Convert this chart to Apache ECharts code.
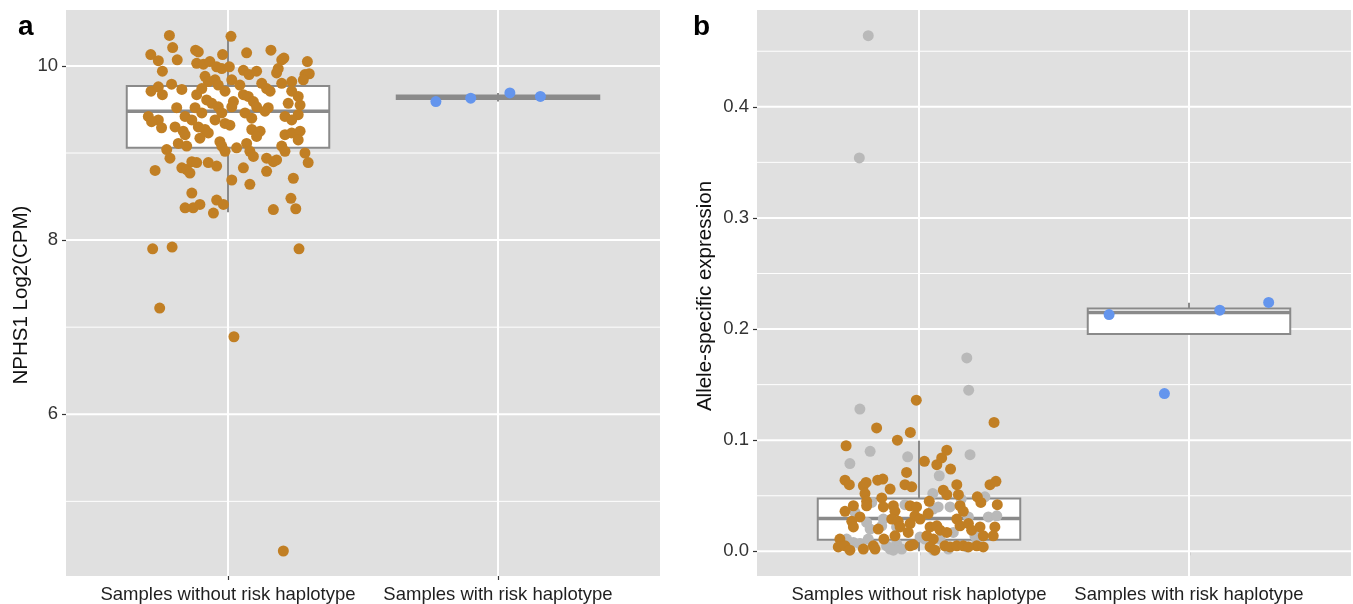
<!DOCTYPE html>
<html>
<head>
<meta charset="utf-8">
<script src="https://cdn.jsdelivr.net/npm/echarts@6/dist/echarts.min.js"></script>
<style>
  html, body { margin: 0; padding: 0; background: #ffffff; }
  #chart { width: 1353px; height: 604px; }
</style>
</head>
<body>
<div id="chart"></div>
<script>
// ---- data -----------------------------------------------------------------
const categories = ['Samples without risk haplotype', 'Samples with risk haplotype'];

// Panel a: NPHS1 expression, [jitter offset from category centre, log2(CPM)]
const nphs1NoRisk = [
  [-0.217, 10.35], [0.011, 10.34], [-0.205, 10.21], [-0.286, 10.13], [-0.258, 10.06],
  [-0.188, 10.07], [-0.120, 10.18], [-0.110, 10.16], [-0.020, 10.13], [0.069, 10.15],
  [0.159, 10.18], [0.207, 10.09], [0.199, 10.07], [0.294, 10.05], [-0.243, 9.94],
  [-0.116, 10.03], [-0.091, 10.02], [-0.067, 10.05], [-0.042, 9.99], [-0.023, 9.97],
  [0.005, 9.99], [0.057, 9.95], [0.078, 9.90], [0.106, 9.94], [0.186, 9.97],
  [0.180, 9.92], [0.285, 9.90], [0.301, 9.91], [0.279, 9.84], [-0.085, 9.88],
  [-0.073, 9.82], [-0.048, 9.84], [0.014, 9.84], [0.044, 9.78], [0.125, 9.80],
  [0.143, 9.74], [0.199, 9.80], [0.236, 9.82], [-0.285, 9.71], [-0.258, 9.76],
  [-0.243, 9.67], [-0.209, 9.79], [-0.171, 9.73], [-0.097, 9.74], [-0.116, 9.67],
  [-0.036, 9.78], [-0.011, 9.71], [0.057, 9.67], [0.075, 9.65], [0.156, 9.71],
  [0.236, 9.71], [0.260, 9.65], [-0.079, 9.61], [-0.060, 9.57], [-0.036, 9.53],
  [0.020, 9.59], [0.014, 9.53], [0.094, 9.59], [0.106, 9.53], [0.149, 9.52],
  [0.223, 9.57], [0.267, 9.55], [-0.190, 9.52], [-0.122, 9.52], [-0.097, 9.46],
  [-0.023, 9.46], [0.063, 9.46], [0.137, 9.48], [0.211, 9.42], [0.260, 9.44],
  [-0.295, 9.42], [-0.258, 9.38], [-0.159, 9.42], [-0.134, 9.38], [-0.048, 9.38],
  [0.088, 9.40], [0.236, 9.38], [-0.283, 9.36], [-0.246, 9.29], [-0.196, 9.30],
  [-0.166, 9.25], [-0.159, 9.21], [-0.110, 9.30], [-0.085, 9.27], [-0.073, 9.23],
  [-0.104, 9.17], [-0.011, 9.34], [0.007, 9.32], [0.088, 9.27], [0.119, 9.25],
  [0.106, 9.19], [0.211, 9.21], [0.236, 9.23], [0.267, 9.25], [0.260, 9.15],
  [-0.184, 9.11], [-0.153, 9.08], [-0.030, 9.13], [-0.023, 9.08], [-0.011, 9.02],
  [0.032, 9.06], [0.069, 9.11], [0.081, 9.02], [0.094, 8.96], [0.199, 9.08],
  [0.211, 9.02], [-0.227, 9.04], [-0.215, 8.94], [-0.270, 8.80], [-0.171, 8.83],
  [-0.153, 8.81], [-0.141, 8.77], [-0.134, 8.90], [-0.116, 8.89], [-0.073, 8.89],
  [-0.042, 8.85], [0.057, 8.83], [0.143, 8.94], [0.168, 8.90], [0.143, 8.79],
  [0.180, 8.92], [0.285, 9.00], [0.297, 8.89], [0.014, 8.69], [0.081, 8.64],
  [0.242, 8.71], [-0.134, 8.54], [-0.042, 8.46], [-0.017, 8.41], [-0.159, 8.37],
  [-0.129, 8.37], [-0.104, 8.41], [-0.054, 8.31], [0.168, 8.35], [0.233, 8.48],
  [0.251, 8.36], [-0.279, 7.90], [-0.207, 7.92], [0.263, 7.90], [-0.253, 7.22],
  [0.022, 6.89], [0.205, 4.43]
];
const nphs1Risk = [[-0.230, 9.59], [-0.101, 9.63], [0.044, 9.69], [0.157, 9.65]];

// box statistics per category: [lower whisker, Q1, median, Q3, upper whisker]
const nphs1Boxes = [
  [8.32, 9.06, 9.48, 9.77, 10.34],
  [9.59, 9.62, 9.64, 9.66, 9.69]
];

// Panel b: allele-specific expression, [jitter offset, value]
const aseNoRiskOrange = [
  [-0.010, 0.136], [0.278, 0.116], [-0.157, 0.111], [-0.080, 0.100], [-0.032, 0.107],
  [-0.270, 0.095], [0.020, 0.081], [0.066, 0.078], [0.084, 0.084], [0.103, 0.091],
  [0.117, 0.074], [-0.274, 0.064], [-0.258, 0.060], [-0.206, 0.059], [-0.196, 0.062],
  [-0.153, 0.064], [-0.134, 0.065], [-0.107, 0.056], [-0.046, 0.071], [-0.052, 0.060],
  [-0.027, 0.058], [0.140, 0.060], [0.263, 0.060], [0.285, 0.063], [0.090, 0.055],
  [0.103, 0.051], [0.146, 0.051], [-0.200, 0.052], [-0.194, 0.045], [-0.194, 0.041],
  [-0.138, 0.048], [0.216, 0.049], [0.229, 0.044], [0.290, 0.042], [0.038, 0.045],
  [-0.243, 0.041], [-0.274, 0.036], [-0.219, 0.031], [-0.132, 0.040], [-0.095, 0.041],
  [-0.089, 0.036], [-0.033, 0.041], [-0.009, 0.040], [-0.015, 0.032], [0.152, 0.041],
  [0.164, 0.036], [-0.249, 0.027], [-0.243, 0.022], [-0.151, 0.020], [-0.101, 0.029],
  [-0.077, 0.027], [-0.070, 0.022], [-0.033, 0.025], [-0.040, 0.017], [0.004, 0.029],
  [0.034, 0.034], [0.041, 0.022], [0.029, 0.014], [0.066, 0.023], [0.078, 0.019],
  [0.103, 0.017], [0.140, 0.029], [0.152, 0.023], [0.183, 0.025], [0.195, 0.019],
  [0.226, 0.022], [0.238, 0.014], [0.281, 0.022], [0.275, 0.014], [-0.293, 0.011],
  [-0.299, 0.004], [-0.274, 0.005], [-0.206, 0.002], [-0.169, 0.005], [-0.163, 0.002],
  [-0.089, 0.014], [-0.033, 0.005], [0.053, 0.011], [0.041, 0.004], [0.059, 0.001],
  [0.096, 0.005], [0.115, 0.004], [0.140, 0.005], [0.164, 0.005], [0.214, 0.005],
  [0.238, 0.004], [-0.021, 0.006], [0.183, 0.004], [-0.130, 0.011], [-0.256, 0.001]
];
const aseNoRiskGrey = [
  [-0.188, 0.464], [-0.221, 0.354], [0.177, 0.174], [0.184, 0.145], [-0.219, 0.128],
  [-0.181, 0.090], [-0.256, 0.079], [-0.042, 0.085], [0.189, 0.087], [0.075, 0.068],
  [0.051, 0.052], [0.156, 0.047], [0.244, 0.049], [-0.237, 0.035], [-0.175, 0.044],
  [-0.052, 0.042], [0.053, 0.038], [0.071, 0.040], [0.115, 0.040], [0.183, 0.031],
  [0.257, 0.031], [0.288, 0.032], [-0.194, 0.026], [-0.181, 0.020], [-0.132, 0.029],
  [-0.138, 0.023], [-0.083, 0.022], [-0.268, 0.011], [-0.243, 0.008], [-0.188, 0.011],
  [-0.120, 0.005], [-0.107, 0.002], [-0.083, 0.007], [-0.064, 0.002], [0.004, 0.013],
  [0.022, 0.011], [0.078, 0.011], [0.127, 0.017], [0.177, 0.004], [0.207, 0.014],
  [-0.095, 0.001], [0.053, 0.001], [0.109, 0.002], [0.214, 0.007], [-0.219, 0.007]
];
const aseRisk = [[-0.296, 0.213], [0.114, 0.217], [0.295, 0.224], [-0.091, 0.142]];

const aseBoxes = [
  [0.000, 0.0104, 0.0296, 0.0475, 0.0994],
  [0.1955, 0.1955, 0.2150, 0.2185, 0.2237]
];

// axis ticks
const nphs1Ticks = [6, 8, 10];
const nphs1Minor = [5, 7, 9];
const aseTicks = [0, 0.1, 0.2, 0.3, 0.4];
const aseMinor = [0.05, 0.15, 0.25, 0.35, 0.45];

// ---- styling ----------------------------------------------------------------
const FONT = '"Liberation Sans", Arial, Helvetica, sans-serif';
const PANEL_BG = '#E0E0E0';
const ORANGE = '#C17F24';
const GREY_PT = '#B9B9B9';
const BLUE = '#6495ED';
const BOX_STROKE = '#8A8A8A';
const BOX_HALF = 0.375;
const PT_SIZE = 11;

// place a jittered point at category index (1-based) + offset
const place = (catIndex, rows) => rows.map(r => [catIndex + r[0], r[1]]);

function gridLineData(major, minor) {
  const rows = [];
  minor.forEach(v => rows.push([v, 0, 0]));
  major.forEach(v => rows.push([v, 1, 0]));
  [1, 2].forEach(v => rows.push([v, 1, 1]));
  return rows;
}

function renderGridLine(params, api) {
  const cs = params.coordSys;
  const v = api.value(0), major = api.value(1), vertical = api.value(2);
  const w = major ? 2 : 1;
  if (vertical) {
    const x = api.coord([v, 0])[0];
    return { type: 'line', shape: { x1: x, y1: cs.y, x2: x, y2: cs.y + cs.height },
             style: { stroke: '#ffffff', lineWidth: w } };
  }
  const yv = api.coord([1, v])[1];
  if (yv < cs.y - 1 || yv > cs.y + cs.height + 1) return null;
  return { type: 'line', shape: { x1: cs.x, y1: yv, x2: cs.x + cs.width, y2: yv },
           style: { stroke: '#ffffff', lineWidth: w } };
}

function renderBox(params, api) {
  const g = api.value(0);
  const low = api.value(1), q1 = api.value(2), med = api.value(3), q3 = api.value(4), high = api.value(5);
  const tl = api.coord([g - BOX_HALF, q3]);
  const br = api.coord([g + BOX_HALF, q1]);
  const pLow = api.coord([g, low]), pQ1 = api.coord([g, q1]);
  const pQ3 = api.coord([g, q3]), pHigh = api.coord([g, high]);
  const mL = api.coord([g - BOX_HALF, med]), mR = api.coord([g + BOX_HALF, med]);
  const lineStyle = { stroke: BOX_STROKE, lineWidth: 2 };
  return {
    type: 'group',
    children: [
      { type: 'line', shape: { x1: pLow[0], y1: pLow[1], x2: pQ1[0], y2: pQ1[1] }, style: lineStyle },
      { type: 'line', shape: { x1: pQ3[0], y1: pQ3[1], x2: pHigh[0], y2: pHigh[1] }, style: lineStyle },
      { type: 'rect', shape: { x: tl[0], y: tl[1], width: br[0] - tl[0], height: br[1] - tl[1] },
        style: { fill: '#ffffff', stroke: BOX_STROKE, lineWidth: 2 } },
      { type: 'line', shape: { x1: mL[0], y1: mL[1], x2: mR[0], y2: mR[1] },
        style: { stroke: BOX_STROKE, lineWidth: 3.5 } }
    ]
  };
}

const boxRows = boxes => boxes.map((b, i) => [i + 1].concat(b));

function xAxisFor(gridIndex) {
  return {
    type: 'value', gridIndex, min: 0.4, max: 2.6,
    axisLine: { show: false },
    splitLine: { show: false },
    axisTick: { show: true, customValues: [1, 2], length: 4, lineStyle: { color: '#333333', width: 1.2 } },
    axisLabel: {
      customValues: [1, 2], formatter: v => categories[Math.round(v) - 1],
      margin: 9, fontSize: 18.5, color: '#1f1f1f', fontFamily: FONT
    }
  };
}

function yAxisFor(gridIndex, min, max, ticks, fmt) {
  return {
    type: 'value', gridIndex, min, max,
    axisLine: { show: false },
    splitLine: { show: false },
    axisTick: { show: true, customValues: ticks, length: 4, lineStyle: { color: '#333333', width: 1.2 } },
    axisLabel: { customValues: ticks, formatter: fmt, margin: 8, fontSize: 18.5, color: '#333333', fontFamily: FONT }
  };
}

const chart = echarts.init(document.getElementById('chart'), null, { renderer: 'canvas' });

chart.setOption({
  animation: false,
  backgroundColor: '#ffffff',
  grid: [
    { left: 66, top: 10, width: 594, height: 567, show: true, backgroundColor: PANEL_BG, borderWidth: 0 },
    { left: 757, top: 10, width: 594, height: 567, show: true, backgroundColor: PANEL_BG, borderWidth: 0 }
  ],
  xAxis: [xAxisFor(0), xAxisFor(1)],
  yAxis: [
    yAxisFor(0, 4.143, 10.642, nphs1Ticks, v => String(Math.round(v))),
    yAxisFor(1, -0.0222, 0.4871, aseTicks, v => v.toFixed(1))
  ],
  graphic: [
    { type: 'text', left: 18, top: 13, style: { text: 'a', font: 'bold 28px ' + FONT, fill: '#000' } },
    { type: 'text', left: 693, top: 13, style: { text: 'b', font: 'bold 28px ' + FONT, fill: '#000' } },
    { type: 'text', x: 21, y: 295, rotation: Math.PI / 2,
      style: { text: 'NPHS1 Log2(CPM)', font: '20.5px ' + FONT, fill: '#111', align: 'center', verticalAlign: 'middle' } },
    { type: 'text', x: 705, y: 296, rotation: Math.PI / 2,
      style: { text: 'Allele-specific expression', font: '20.5px ' + FONT, fill: '#111', align: 'center', verticalAlign: 'middle' } }
  ],
  series: [
    { type: 'custom', xAxisIndex: 0, yAxisIndex: 0, z: 1, silent: true,
      data: gridLineData(nphs1Ticks, nphs1Minor), renderItem: renderGridLine, encode: { x: 0, y: 0 } },
    { type: 'custom', xAxisIndex: 1, yAxisIndex: 1, z: 1, silent: true,
      data: gridLineData(aseTicks, aseMinor), renderItem: renderGridLine, encode: { x: 0, y: 0 } },
    { type: 'custom', xAxisIndex: 0, yAxisIndex: 0, z: 2, silent: true,
      data: boxRows(nphs1Boxes), renderItem: renderBox, encode: { x: 0, y: [1, 2, 3, 4, 5] } },
    { type: 'custom', xAxisIndex: 1, yAxisIndex: 1, z: 2, silent: true,
      data: boxRows(aseBoxes), renderItem: renderBox, encode: { x: 0, y: [1, 2, 3, 4, 5] } },
    { type: 'scatter', xAxisIndex: 0, yAxisIndex: 0, z: 3, symbolSize: PT_SIZE,
      itemStyle: { color: ORANGE, opacity: 1 }, data: place(1, nphs1NoRisk) },
    { type: 'scatter', xAxisIndex: 0, yAxisIndex: 0, z: 3, symbolSize: PT_SIZE,
      itemStyle: { color: BLUE, opacity: 1 }, data: place(2, nphs1Risk) },
    { type: 'scatter', xAxisIndex: 1, yAxisIndex: 1, z: 3, symbolSize: PT_SIZE,
      itemStyle: { color: GREY_PT, opacity: 1 }, data: place(1, aseNoRiskGrey) },
    { type: 'scatter', xAxisIndex: 1, yAxisIndex: 1, z: 3, symbolSize: PT_SIZE,
      itemStyle: { color: ORANGE, opacity: 1 }, data: place(1, aseNoRiskOrange) },
    { type: 'scatter', xAxisIndex: 1, yAxisIndex: 1, z: 3, symbolSize: PT_SIZE,
      itemStyle: { color: BLUE, opacity: 1 }, data: place(2, aseRisk) }
  ]
});
</script>
</body>
</html>
